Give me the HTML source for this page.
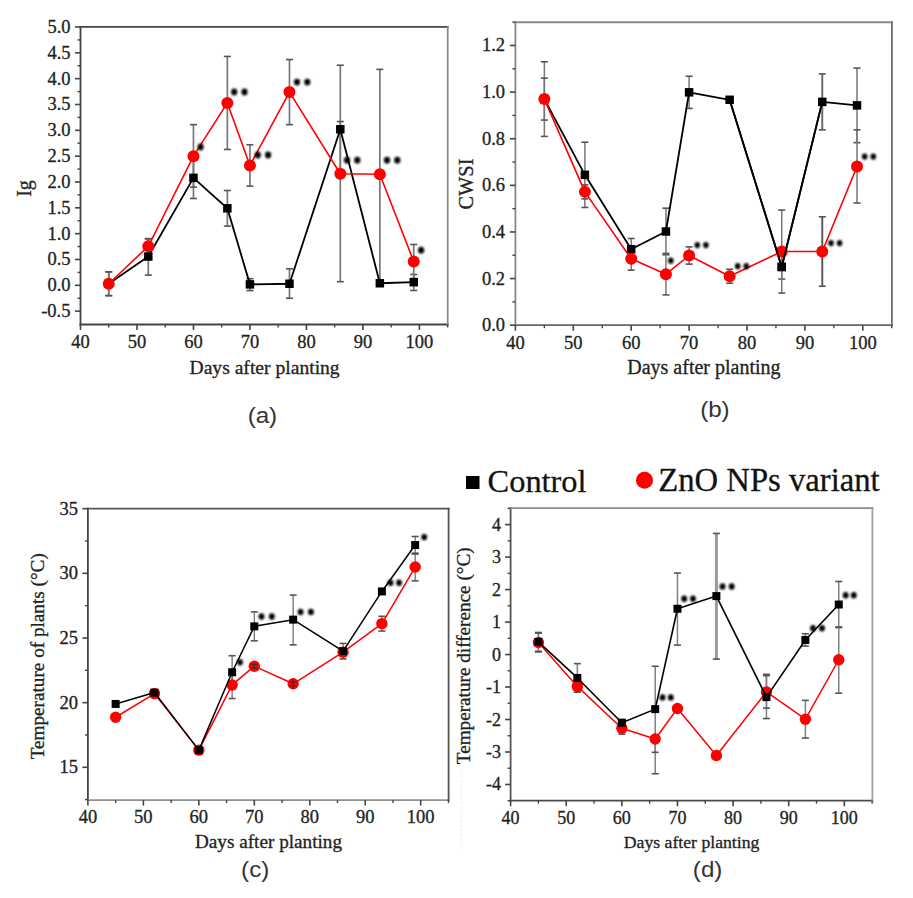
<!DOCTYPE html>
<html><head><meta charset="utf-8"><style>
html,body{margin:0;padding:0;background:#fff;width:913px;height:898px;overflow:hidden;}
svg{display:block;}
text{stroke:#222;stroke-width:0.3px;}
</style></head><body>
<svg width="913" height="898" viewBox="0 0 913 898">
<defs><filter id="bl" x="-50%" y="-50%" width="200%" height="200%"><feGaussianBlur stdDeviation="0.8"/></filter></defs>
<rect width="913" height="898" fill="#fff"/>
<line x1="80.5" y1="26" x2="80.5" y2="325.4" stroke="#444" stroke-width="1.8"/>
<line x1="79.6" y1="324.5" x2="448.6" y2="324.5" stroke="#444" stroke-width="1.8"/>
<line x1="79.6" y1="26.9" x2="448.6" y2="26.9" stroke="#444" stroke-width="1.8"/>
<line x1="447.7" y1="26" x2="447.7" y2="325.4" stroke="#8a8a8a" stroke-width="1.8"/>
<line x1="75" y1="311.13" x2="80.5" y2="311.13" stroke="#444" stroke-width="1.6"/>
<text x="70.5" y="317.13" font-size="18.5" text-anchor="end" font-family='"Liberation Serif", serif' fill="#222">-0.5</text>
<line x1="75" y1="285.3" x2="80.5" y2="285.3" stroke="#444" stroke-width="1.6"/>
<text x="70.5" y="291.3" font-size="18.5" text-anchor="end" font-family='"Liberation Serif", serif' fill="#222">0.0</text>
<line x1="75" y1="259.47" x2="80.5" y2="259.47" stroke="#444" stroke-width="1.6"/>
<text x="70.5" y="265.47" font-size="18.5" text-anchor="end" font-family='"Liberation Serif", serif' fill="#222">0.5</text>
<line x1="75" y1="233.64" x2="80.5" y2="233.64" stroke="#444" stroke-width="1.6"/>
<text x="70.5" y="239.64" font-size="18.5" text-anchor="end" font-family='"Liberation Serif", serif' fill="#222">1.0</text>
<line x1="75" y1="207.81" x2="80.5" y2="207.81" stroke="#444" stroke-width="1.6"/>
<text x="70.5" y="213.81" font-size="18.5" text-anchor="end" font-family='"Liberation Serif", serif' fill="#222">1.5</text>
<line x1="75" y1="181.98" x2="80.5" y2="181.98" stroke="#444" stroke-width="1.6"/>
<text x="70.5" y="187.98" font-size="18.5" text-anchor="end" font-family='"Liberation Serif", serif' fill="#222">2.0</text>
<line x1="75" y1="156.15" x2="80.5" y2="156.15" stroke="#444" stroke-width="1.6"/>
<text x="70.5" y="162.15" font-size="18.5" text-anchor="end" font-family='"Liberation Serif", serif' fill="#222">2.5</text>
<line x1="75" y1="130.32" x2="80.5" y2="130.32" stroke="#444" stroke-width="1.6"/>
<text x="70.5" y="136.32" font-size="18.5" text-anchor="end" font-family='"Liberation Serif", serif' fill="#222">3.0</text>
<line x1="75" y1="104.49" x2="80.5" y2="104.49" stroke="#444" stroke-width="1.6"/>
<text x="70.5" y="110.49" font-size="18.5" text-anchor="end" font-family='"Liberation Serif", serif' fill="#222">3.5</text>
<line x1="75" y1="78.66" x2="80.5" y2="78.66" stroke="#444" stroke-width="1.6"/>
<text x="70.5" y="84.66" font-size="18.5" text-anchor="end" font-family='"Liberation Serif", serif' fill="#222">4.0</text>
<line x1="75" y1="52.83" x2="80.5" y2="52.83" stroke="#444" stroke-width="1.6"/>
<text x="70.5" y="58.83" font-size="18.5" text-anchor="end" font-family='"Liberation Serif", serif' fill="#222">4.5</text>
<line x1="75" y1="27" x2="80.5" y2="27" stroke="#444" stroke-width="1.6"/>
<text x="70.5" y="33" font-size="18.5" text-anchor="end" font-family='"Liberation Serif", serif' fill="#222">5.0</text>
<line x1="77.5" y1="298.22" x2="80.5" y2="298.22" stroke="#444" stroke-width="1.4"/>
<line x1="77.5" y1="272.38" x2="80.5" y2="272.38" stroke="#444" stroke-width="1.4"/>
<line x1="77.5" y1="246.56" x2="80.5" y2="246.56" stroke="#444" stroke-width="1.4"/>
<line x1="77.5" y1="220.73" x2="80.5" y2="220.73" stroke="#444" stroke-width="1.4"/>
<line x1="77.5" y1="194.9" x2="80.5" y2="194.9" stroke="#444" stroke-width="1.4"/>
<line x1="77.5" y1="169.07" x2="80.5" y2="169.07" stroke="#444" stroke-width="1.4"/>
<line x1="77.5" y1="143.24" x2="80.5" y2="143.24" stroke="#444" stroke-width="1.4"/>
<line x1="77.5" y1="117.41" x2="80.5" y2="117.41" stroke="#444" stroke-width="1.4"/>
<line x1="77.5" y1="91.58" x2="80.5" y2="91.58" stroke="#444" stroke-width="1.4"/>
<line x1="77.5" y1="65.75" x2="80.5" y2="65.75" stroke="#444" stroke-width="1.4"/>
<line x1="77.5" y1="39.92" x2="80.5" y2="39.92" stroke="#444" stroke-width="1.4"/>
<line x1="80.5" y1="324.5" x2="80.5" y2="330" stroke="#444" stroke-width="1.6"/>
<text x="80.5" y="348" font-size="18.5" text-anchor="middle" font-family='"Liberation Serif", serif' fill="#222">40</text>
<line x1="136.98" y1="324.5" x2="136.98" y2="330" stroke="#444" stroke-width="1.6"/>
<text x="136.98" y="348" font-size="18.5" text-anchor="middle" font-family='"Liberation Serif", serif' fill="#222">50</text>
<line x1="193.46" y1="324.5" x2="193.46" y2="330" stroke="#444" stroke-width="1.6"/>
<text x="193.46" y="348" font-size="18.5" text-anchor="middle" font-family='"Liberation Serif", serif' fill="#222">60</text>
<line x1="249.94" y1="324.5" x2="249.94" y2="330" stroke="#444" stroke-width="1.6"/>
<text x="249.94" y="348" font-size="18.5" text-anchor="middle" font-family='"Liberation Serif", serif' fill="#222">70</text>
<line x1="306.42" y1="324.5" x2="306.42" y2="330" stroke="#444" stroke-width="1.6"/>
<text x="306.42" y="348" font-size="18.5" text-anchor="middle" font-family='"Liberation Serif", serif' fill="#222">80</text>
<line x1="362.9" y1="324.5" x2="362.9" y2="330" stroke="#444" stroke-width="1.6"/>
<text x="362.9" y="348" font-size="18.5" text-anchor="middle" font-family='"Liberation Serif", serif' fill="#222">90</text>
<line x1="419.38" y1="324.5" x2="419.38" y2="330" stroke="#444" stroke-width="1.6"/>
<text x="419.38" y="348" font-size="18.5" text-anchor="middle" font-family='"Liberation Serif", serif' fill="#222">100</text>
<line x1="108.74" y1="324.5" x2="108.74" y2="327.5" stroke="#444" stroke-width="1.4"/>
<line x1="165.22" y1="324.5" x2="165.22" y2="327.5" stroke="#444" stroke-width="1.4"/>
<line x1="221.7" y1="324.5" x2="221.7" y2="327.5" stroke="#444" stroke-width="1.4"/>
<line x1="278.18" y1="324.5" x2="278.18" y2="327.5" stroke="#444" stroke-width="1.4"/>
<line x1="334.66" y1="324.5" x2="334.66" y2="327.5" stroke="#444" stroke-width="1.4"/>
<line x1="391.14" y1="324.5" x2="391.14" y2="327.5" stroke="#444" stroke-width="1.4"/>
<line x1="447.62" y1="324.5" x2="447.62" y2="327.5" stroke="#444" stroke-width="1.4"/>
<text x="264.6" y="374.3" font-size="19.6" text-anchor="middle" font-family='"Liberation Serif", serif' fill="#222">Days after planting</text>
<text transform="translate(31,188.5) rotate(-90)" font-size="20" text-anchor="middle" font-family='"Liberation Serif", serif' fill="#222">Ig</text>
<text transform="translate(262.4,422.8) scale(1.07,1)" font-size="22.6" text-anchor="middle" font-family='"Liberation Sans", sans-serif' fill="#333" style="stroke:none">(a)</text>
<line x1="108.74" y1="271.87" x2="108.74" y2="295.63" stroke="#777" stroke-width="1.7"/>
<line x1="105.24" y1="271.87" x2="112.24" y2="271.87" stroke="#555" stroke-width="1.6"/>
<line x1="105.24" y1="295.63" x2="112.24" y2="295.63" stroke="#555" stroke-width="1.6"/>
<line x1="148.28" y1="238.96" x2="148.28" y2="275.12" stroke="#777" stroke-width="1.7"/>
<line x1="144.78" y1="238.96" x2="151.78" y2="238.96" stroke="#555" stroke-width="1.6"/>
<line x1="144.78" y1="275.12" x2="151.78" y2="275.12" stroke="#555" stroke-width="1.6"/>
<line x1="193.46" y1="157.18" x2="193.46" y2="198.51" stroke="#777" stroke-width="1.7"/>
<line x1="189.96" y1="157.18" x2="196.96" y2="157.18" stroke="#555" stroke-width="1.6"/>
<line x1="189.96" y1="198.51" x2="196.96" y2="198.51" stroke="#555" stroke-width="1.6"/>
<line x1="227.35" y1="190.5" x2="227.35" y2="226.15" stroke="#777" stroke-width="1.7"/>
<line x1="223.85" y1="190.5" x2="230.85" y2="190.5" stroke="#555" stroke-width="1.6"/>
<line x1="223.85" y1="226.15" x2="230.85" y2="226.15" stroke="#555" stroke-width="1.6"/>
<line x1="249.94" y1="278.69" x2="249.94" y2="290.57" stroke="#777" stroke-width="1.7"/>
<line x1="246.44" y1="278.69" x2="253.44" y2="278.69" stroke="#555" stroke-width="1.6"/>
<line x1="246.44" y1="290.57" x2="253.44" y2="290.57" stroke="#555" stroke-width="1.6"/>
<line x1="289.48" y1="268.77" x2="289.48" y2="298.22" stroke="#777" stroke-width="1.7"/>
<line x1="285.98" y1="268.77" x2="292.98" y2="268.77" stroke="#555" stroke-width="1.6"/>
<line x1="285.98" y1="298.22" x2="292.98" y2="298.22" stroke="#555" stroke-width="1.6"/>
<line x1="340.31" y1="65.23" x2="340.31" y2="281.68" stroke="#777" stroke-width="1.7"/>
<line x1="336.81" y1="65.23" x2="343.81" y2="65.23" stroke="#555" stroke-width="1.6"/>
<line x1="336.81" y1="281.68" x2="343.81" y2="281.68" stroke="#555" stroke-width="1.6"/>
<line x1="379.84" y1="69.36" x2="379.84" y2="283.23" stroke="#777" stroke-width="1.7"/>
<line x1="376.34" y1="69.36" x2="383.34" y2="69.36" stroke="#555" stroke-width="1.6"/>
<line x1="413.73" y1="274.45" x2="413.73" y2="290.47" stroke="#777" stroke-width="1.7"/>
<line x1="410.23" y1="274.45" x2="417.23" y2="274.45" stroke="#555" stroke-width="1.6"/>
<line x1="410.23" y1="290.47" x2="417.23" y2="290.47" stroke="#555" stroke-width="1.6"/>
<line x1="108.74" y1="271.87" x2="108.74" y2="295.63" stroke="#777" stroke-width="1.7"/>
<line x1="105.24" y1="271.87" x2="112.24" y2="271.87" stroke="#555" stroke-width="1.6"/>
<line x1="105.24" y1="295.63" x2="112.24" y2="295.63" stroke="#555" stroke-width="1.6"/>
<line x1="148.28" y1="238.55" x2="148.28" y2="254.05" stroke="#777" stroke-width="1.7"/>
<line x1="144.78" y1="238.55" x2="151.78" y2="238.55" stroke="#555" stroke-width="1.6"/>
<line x1="144.78" y1="254.05" x2="151.78" y2="254.05" stroke="#555" stroke-width="1.6"/>
<line x1="193.46" y1="124.64" x2="193.46" y2="187.15" stroke="#777" stroke-width="1.7"/>
<line x1="189.96" y1="124.64" x2="196.96" y2="124.64" stroke="#555" stroke-width="1.6"/>
<line x1="189.96" y1="187.15" x2="196.96" y2="187.15" stroke="#555" stroke-width="1.6"/>
<line x1="227.35" y1="56.45" x2="227.35" y2="149.43" stroke="#777" stroke-width="1.7"/>
<line x1="223.85" y1="56.45" x2="230.85" y2="56.45" stroke="#555" stroke-width="1.6"/>
<line x1="223.85" y1="149.43" x2="230.85" y2="149.43" stroke="#555" stroke-width="1.6"/>
<line x1="249.94" y1="144.78" x2="249.94" y2="186.11" stroke="#777" stroke-width="1.7"/>
<line x1="246.44" y1="144.78" x2="253.44" y2="144.78" stroke="#555" stroke-width="1.6"/>
<line x1="246.44" y1="186.11" x2="253.44" y2="186.11" stroke="#555" stroke-width="1.6"/>
<line x1="289.48" y1="59.55" x2="289.48" y2="124.64" stroke="#777" stroke-width="1.7"/>
<line x1="285.98" y1="59.55" x2="292.98" y2="59.55" stroke="#555" stroke-width="1.6"/>
<line x1="285.98" y1="124.64" x2="292.98" y2="124.64" stroke="#555" stroke-width="1.6"/>
<line x1="340.31" y1="121.54" x2="340.31" y2="173.71" stroke="#777" stroke-width="1.7"/>
<line x1="336.81" y1="121.54" x2="343.81" y2="121.54" stroke="#555" stroke-width="1.6"/>
<line x1="413.73" y1="244.49" x2="413.73" y2="278.58" stroke="#777" stroke-width="1.7"/>
<line x1="410.23" y1="244.49" x2="417.23" y2="244.49" stroke="#555" stroke-width="1.6"/>
<line x1="410.23" y1="278.58" x2="417.23" y2="278.58" stroke="#555" stroke-width="1.6"/>
<polyline points="108.74,283.75 148.28,256.53 193.46,177.85 227.35,208.33 249.94,284.37 289.48,283.75 340.31,129.29 379.84,283.23 413.73,282.2" fill="none" stroke="#000" stroke-width="1.8" stroke-linejoin="round"/>
<rect x="104.49" y="279.5" width="8.5" height="8.5" fill="#000"/>
<rect x="144.03" y="252.28" width="8.5" height="8.5" fill="#000"/>
<rect x="189.21" y="173.6" width="8.5" height="8.5" fill="#000"/>
<rect x="223.1" y="204.08" width="8.5" height="8.5" fill="#000"/>
<rect x="245.69" y="280.12" width="8.5" height="8.5" fill="#000"/>
<rect x="285.23" y="279.5" width="8.5" height="8.5" fill="#000"/>
<rect x="336.06" y="125.04" width="8.5" height="8.5" fill="#000"/>
<rect x="375.59" y="278.98" width="8.5" height="8.5" fill="#000"/>
<rect x="409.48" y="277.95" width="8.5" height="8.5" fill="#000"/>
<polyline points="108.74,283.75 148.28,246.3 193.46,156.15 227.35,102.94 249.94,165.45 289.48,92.09 340.31,173.71 379.84,174.23 413.73,261.54" fill="none" stroke="#f00" stroke-width="1.6" stroke-linejoin="round"/>
<circle cx="108.74" cy="283.75" r="6" fill="#f00"/>
<circle cx="148.28" cy="246.3" r="6" fill="#f00"/>
<circle cx="193.46" cy="156.15" r="6" fill="#f00"/>
<circle cx="227.35" cy="102.94" r="6" fill="#f00"/>
<circle cx="249.94" cy="165.45" r="6" fill="#f00"/>
<circle cx="289.48" cy="92.09" r="6" fill="#f00"/>
<circle cx="340.31" cy="173.71" r="6" fill="#f00"/>
<circle cx="379.84" cy="174.23" r="6" fill="#f00"/>
<circle cx="413.73" cy="261.54" r="6" fill="#f00"/>
<ellipse cx="200.6" cy="147" rx="3.1" ry="3.41" fill="#000" filter="url(#bl)"/>
<ellipse cx="234.2" cy="92" rx="3.1" ry="3.41" fill="#000" filter="url(#bl)"/>
<ellipse cx="244.5" cy="92" rx="3.1" ry="3.41" fill="#000" filter="url(#bl)"/>
<ellipse cx="257.8" cy="155" rx="3.1" ry="3.41" fill="#000" filter="url(#bl)"/>
<ellipse cx="268.1" cy="155" rx="3.1" ry="3.41" fill="#000" filter="url(#bl)"/>
<ellipse cx="297" cy="82.1" rx="3.1" ry="3.41" fill="#000" filter="url(#bl)"/>
<ellipse cx="307.3" cy="82.1" rx="3.1" ry="3.41" fill="#000" filter="url(#bl)"/>
<ellipse cx="347" cy="160.2" rx="3.1" ry="3.41" fill="#000" filter="url(#bl)"/>
<ellipse cx="357.3" cy="160.2" rx="3.1" ry="3.41" fill="#000" filter="url(#bl)"/>
<ellipse cx="387" cy="160.2" rx="3.1" ry="3.41" fill="#000" filter="url(#bl)"/>
<ellipse cx="397.3" cy="160.2" rx="3.1" ry="3.41" fill="#000" filter="url(#bl)"/>
<ellipse cx="421.1" cy="250.2" rx="3.1" ry="3.41" fill="#000" filter="url(#bl)"/>
<line x1="515.4" y1="21.35" x2="515.4" y2="326.1" stroke="#888" stroke-width="1.8"/>
<line x1="514.5" y1="325.2" x2="892.8" y2="325.2" stroke="#666" stroke-width="1.8"/>
<line x1="514.5" y1="22.25" x2="892.8" y2="22.25" stroke="#8a8a8a" stroke-width="1.8"/>
<line x1="891.9" y1="21.35" x2="891.9" y2="326.1" stroke="#707070" stroke-width="1.8"/>
<line x1="509.9" y1="325.2" x2="515.4" y2="325.2" stroke="#444" stroke-width="1.6"/>
<text x="505" y="331.2" font-size="18.5" text-anchor="end" font-family='"Liberation Serif", serif' fill="#222">0.0</text>
<line x1="509.9" y1="278.58" x2="515.4" y2="278.58" stroke="#444" stroke-width="1.6"/>
<text x="505" y="284.58" font-size="18.5" text-anchor="end" font-family='"Liberation Serif", serif' fill="#222">0.2</text>
<line x1="509.9" y1="231.96" x2="515.4" y2="231.96" stroke="#444" stroke-width="1.6"/>
<text x="505" y="237.96" font-size="18.5" text-anchor="end" font-family='"Liberation Serif", serif' fill="#222">0.4</text>
<line x1="509.9" y1="185.34" x2="515.4" y2="185.34" stroke="#444" stroke-width="1.6"/>
<text x="505" y="191.34" font-size="18.5" text-anchor="end" font-family='"Liberation Serif", serif' fill="#222">0.6</text>
<line x1="509.9" y1="138.72" x2="515.4" y2="138.72" stroke="#444" stroke-width="1.6"/>
<text x="505" y="144.72" font-size="18.5" text-anchor="end" font-family='"Liberation Serif", serif' fill="#222">0.8</text>
<line x1="509.9" y1="92.1" x2="515.4" y2="92.1" stroke="#444" stroke-width="1.6"/>
<text x="505" y="98.1" font-size="18.5" text-anchor="end" font-family='"Liberation Serif", serif' fill="#222">1.0</text>
<line x1="509.9" y1="45.48" x2="515.4" y2="45.48" stroke="#444" stroke-width="1.6"/>
<text x="505" y="51.48" font-size="18.5" text-anchor="end" font-family='"Liberation Serif", serif' fill="#222">1.2</text>
<line x1="512.4" y1="301.89" x2="515.4" y2="301.89" stroke="#444" stroke-width="1.4"/>
<line x1="512.4" y1="255.27" x2="515.4" y2="255.27" stroke="#444" stroke-width="1.4"/>
<line x1="512.4" y1="208.65" x2="515.4" y2="208.65" stroke="#444" stroke-width="1.4"/>
<line x1="512.4" y1="162.03" x2="515.4" y2="162.03" stroke="#444" stroke-width="1.4"/>
<line x1="512.4" y1="115.41" x2="515.4" y2="115.41" stroke="#444" stroke-width="1.4"/>
<line x1="512.4" y1="68.79" x2="515.4" y2="68.79" stroke="#444" stroke-width="1.4"/>
<line x1="512.4" y1="22.17" x2="515.4" y2="22.17" stroke="#444" stroke-width="1.4"/>
<line x1="515.4" y1="325.2" x2="515.4" y2="330.7" stroke="#444" stroke-width="1.6"/>
<text x="515.4" y="349" font-size="18.5" text-anchor="middle" font-family='"Liberation Serif", serif' fill="#222">40</text>
<line x1="573.3" y1="325.2" x2="573.3" y2="330.7" stroke="#444" stroke-width="1.6"/>
<text x="573.3" y="349" font-size="18.5" text-anchor="middle" font-family='"Liberation Serif", serif' fill="#222">50</text>
<line x1="631.2" y1="325.2" x2="631.2" y2="330.7" stroke="#444" stroke-width="1.6"/>
<text x="631.2" y="349" font-size="18.5" text-anchor="middle" font-family='"Liberation Serif", serif' fill="#222">60</text>
<line x1="689.1" y1="325.2" x2="689.1" y2="330.7" stroke="#444" stroke-width="1.6"/>
<text x="689.1" y="349" font-size="18.5" text-anchor="middle" font-family='"Liberation Serif", serif' fill="#222">70</text>
<line x1="747" y1="325.2" x2="747" y2="330.7" stroke="#444" stroke-width="1.6"/>
<text x="747" y="349" font-size="18.5" text-anchor="middle" font-family='"Liberation Serif", serif' fill="#222">80</text>
<line x1="804.9" y1="325.2" x2="804.9" y2="330.7" stroke="#444" stroke-width="1.6"/>
<text x="804.9" y="349" font-size="18.5" text-anchor="middle" font-family='"Liberation Serif", serif' fill="#222">90</text>
<line x1="862.8" y1="325.2" x2="862.8" y2="330.7" stroke="#444" stroke-width="1.6"/>
<text x="862.8" y="349" font-size="18.5" text-anchor="middle" font-family='"Liberation Serif", serif' fill="#222">100</text>
<line x1="544.35" y1="325.2" x2="544.35" y2="328.2" stroke="#444" stroke-width="1.4"/>
<line x1="602.25" y1="325.2" x2="602.25" y2="328.2" stroke="#444" stroke-width="1.4"/>
<line x1="660.15" y1="325.2" x2="660.15" y2="328.2" stroke="#444" stroke-width="1.4"/>
<line x1="718.05" y1="325.2" x2="718.05" y2="328.2" stroke="#444" stroke-width="1.4"/>
<line x1="775.95" y1="325.2" x2="775.95" y2="328.2" stroke="#444" stroke-width="1.4"/>
<line x1="833.85" y1="325.2" x2="833.85" y2="328.2" stroke="#444" stroke-width="1.4"/>
<line x1="891.75" y1="325.2" x2="891.75" y2="328.2" stroke="#444" stroke-width="1.4"/>
<text x="703.9" y="373.6" font-size="20" text-anchor="middle" font-family='"Liberation Serif", serif' fill="#222">Days after planting</text>
<text transform="translate(473.3,184) rotate(-90)" font-size="20.4" text-anchor="middle" font-family='"Liberation Serif", serif' fill="#222">CWSI</text>
<text transform="translate(714.9,416.5) scale(1.07,1)" font-size="22.6" text-anchor="middle" font-family='"Liberation Sans", sans-serif' fill="#333" style="stroke:none">(b)</text>
<line x1="544.35" y1="61.8" x2="544.35" y2="136.39" stroke="#777" stroke-width="1.5"/>
<line x1="540.85" y1="61.8" x2="547.85" y2="61.8" stroke="#555" stroke-width="1.6"/>
<line x1="540.85" y1="136.39" x2="547.85" y2="136.39" stroke="#555" stroke-width="1.6"/>
<line x1="584.88" y1="142.22" x2="584.88" y2="207.48" stroke="#777" stroke-width="1.5"/>
<line x1="581.38" y1="142.22" x2="588.38" y2="142.22" stroke="#555" stroke-width="1.6"/>
<line x1="581.38" y1="207.48" x2="588.38" y2="207.48" stroke="#555" stroke-width="1.6"/>
<line x1="631.2" y1="238.49" x2="631.2" y2="259.93" stroke="#777" stroke-width="1.5"/>
<line x1="627.7" y1="238.49" x2="634.7" y2="238.49" stroke="#555" stroke-width="1.6"/>
<line x1="627.7" y1="259.93" x2="634.7" y2="259.93" stroke="#555" stroke-width="1.6"/>
<line x1="665.94" y1="208.18" x2="665.94" y2="254.8" stroke="#777" stroke-width="1.5"/>
<line x1="662.44" y1="208.18" x2="669.44" y2="208.18" stroke="#555" stroke-width="1.6"/>
<line x1="662.44" y1="254.8" x2="669.44" y2="254.8" stroke="#555" stroke-width="1.6"/>
<line x1="689.1" y1="76.25" x2="689.1" y2="108.42" stroke="#777" stroke-width="1.5"/>
<line x1="685.6" y1="76.25" x2="692.6" y2="76.25" stroke="#555" stroke-width="1.6"/>
<line x1="685.6" y1="108.42" x2="692.6" y2="108.42" stroke="#555" stroke-width="1.6"/>
<line x1="729.63" y1="97.46" x2="729.63" y2="102.12" stroke="#777" stroke-width="1.5"/>
<line x1="726.13" y1="97.46" x2="733.13" y2="97.46" stroke="#555" stroke-width="1.6"/>
<line x1="726.13" y1="102.12" x2="733.13" y2="102.12" stroke="#555" stroke-width="1.6"/>
<line x1="781.74" y1="254.8" x2="781.74" y2="279.05" stroke="#777" stroke-width="1.5"/>
<line x1="778.24" y1="254.8" x2="785.24" y2="254.8" stroke="#555" stroke-width="1.6"/>
<line x1="778.24" y1="279.05" x2="785.24" y2="279.05" stroke="#555" stroke-width="1.6"/>
<line x1="822.27" y1="73.92" x2="822.27" y2="129.86" stroke="#666" stroke-width="1.9"/>
<line x1="818.77" y1="73.92" x2="825.77" y2="73.92" stroke="#555" stroke-width="1.6"/>
<line x1="818.77" y1="129.86" x2="825.77" y2="129.86" stroke="#555" stroke-width="1.6"/>
<line x1="857.01" y1="68.09" x2="857.01" y2="142.68" stroke="#777" stroke-width="1.5"/>
<line x1="853.51" y1="68.09" x2="860.51" y2="68.09" stroke="#555" stroke-width="1.6"/>
<line x1="853.51" y1="142.68" x2="860.51" y2="142.68" stroke="#555" stroke-width="1.6"/>
<line x1="544.35" y1="78.11" x2="544.35" y2="120.07" stroke="#777" stroke-width="1.5"/>
<line x1="540.85" y1="78.11" x2="547.85" y2="78.11" stroke="#555" stroke-width="1.6"/>
<line x1="540.85" y1="120.07" x2="547.85" y2="120.07" stroke="#555" stroke-width="1.6"/>
<line x1="584.88" y1="184.87" x2="584.88" y2="198.86" stroke="#777" stroke-width="1.5"/>
<line x1="581.38" y1="184.87" x2="588.38" y2="184.87" stroke="#555" stroke-width="1.6"/>
<line x1="581.38" y1="198.86" x2="588.38" y2="198.86" stroke="#555" stroke-width="1.6"/>
<line x1="631.2" y1="247.34" x2="631.2" y2="270.19" stroke="#777" stroke-width="1.5"/>
<line x1="627.7" y1="247.34" x2="634.7" y2="247.34" stroke="#555" stroke-width="1.6"/>
<line x1="627.7" y1="270.19" x2="634.7" y2="270.19" stroke="#555" stroke-width="1.6"/>
<line x1="665.94" y1="253.41" x2="665.94" y2="294.9" stroke="#777" stroke-width="1.5"/>
<line x1="662.44" y1="253.41" x2="669.44" y2="253.41" stroke="#555" stroke-width="1.6"/>
<line x1="662.44" y1="294.9" x2="669.44" y2="294.9" stroke="#555" stroke-width="1.6"/>
<line x1="689.1" y1="246.88" x2="689.1" y2="264.13" stroke="#777" stroke-width="1.5"/>
<line x1="685.6" y1="246.88" x2="692.6" y2="246.88" stroke="#555" stroke-width="1.6"/>
<line x1="685.6" y1="264.13" x2="692.6" y2="264.13" stroke="#555" stroke-width="1.6"/>
<line x1="729.63" y1="269.26" x2="729.63" y2="283.24" stroke="#777" stroke-width="1.5"/>
<line x1="726.13" y1="269.26" x2="733.13" y2="269.26" stroke="#555" stroke-width="1.6"/>
<line x1="726.13" y1="283.24" x2="733.13" y2="283.24" stroke="#555" stroke-width="1.6"/>
<line x1="781.74" y1="210.05" x2="781.74" y2="293.03" stroke="#777" stroke-width="1.5"/>
<line x1="778.24" y1="210.05" x2="785.24" y2="210.05" stroke="#555" stroke-width="1.6"/>
<line x1="778.24" y1="293.03" x2="785.24" y2="293.03" stroke="#555" stroke-width="1.6"/>
<line x1="822.27" y1="216.81" x2="822.27" y2="286.27" stroke="#555" stroke-width="1.9"/>
<line x1="818.77" y1="216.81" x2="825.77" y2="216.81" stroke="#555" stroke-width="1.6"/>
<line x1="818.77" y1="286.27" x2="825.77" y2="286.27" stroke="#555" stroke-width="1.6"/>
<line x1="857.01" y1="129.86" x2="857.01" y2="203.06" stroke="#777" stroke-width="1.5"/>
<line x1="853.51" y1="129.86" x2="860.51" y2="129.86" stroke="#555" stroke-width="1.6"/>
<line x1="853.51" y1="203.06" x2="860.51" y2="203.06" stroke="#555" stroke-width="1.6"/>
<polyline points="544.35,99.09 584.88,174.85 631.2,249.21 665.94,231.49 689.1,92.33 729.63,99.79 781.74,266.93 822.27,101.89 857.01,105.39" fill="none" stroke="#000" stroke-width="1.8" stroke-linejoin="round"/>
<rect x="540.1" y="94.84" width="8.5" height="8.5" fill="#000"/>
<rect x="580.63" y="170.6" width="8.5" height="8.5" fill="#000"/>
<rect x="626.95" y="244.96" width="8.5" height="8.5" fill="#000"/>
<rect x="661.69" y="227.24" width="8.5" height="8.5" fill="#000"/>
<rect x="684.85" y="88.08" width="8.5" height="8.5" fill="#000"/>
<rect x="725.38" y="95.54" width="8.5" height="8.5" fill="#000"/>
<rect x="777.49" y="262.68" width="8.5" height="8.5" fill="#000"/>
<rect x="818.02" y="97.64" width="8.5" height="8.5" fill="#000"/>
<rect x="852.76" y="101.14" width="8.5" height="8.5" fill="#000"/>
<polyline points="544.35,99.09 584.88,191.87 631.2,258.77 665.94,274.15 689.1,255.5 729.63,276.25 781.74,251.54 822.27,251.54 857.01,166.46" fill="none" stroke="#f00" stroke-width="1.6" stroke-linejoin="round"/>
<circle cx="544.35" cy="99.09" r="6" fill="#f00"/>
<circle cx="584.88" cy="191.87" r="6" fill="#f00"/>
<circle cx="631.2" cy="258.77" r="6" fill="#f00"/>
<circle cx="665.94" cy="274.15" r="6" fill="#f00"/>
<circle cx="689.1" cy="255.5" r="6" fill="#f00"/>
<circle cx="729.63" cy="276.25" r="6" fill="#f00"/>
<circle cx="781.74" cy="251.54" r="6" fill="#f00"/>
<circle cx="822.27" cy="251.54" r="6" fill="#f00"/>
<circle cx="857.01" cy="166.46" r="6" fill="#f00"/>
<polyline points="729.63,99.79 781.74,266.93 822.27,101.89" fill="none" stroke="#000" stroke-width="1.8" stroke-linejoin="round"/>
<rect x="777.49" y="262.68" width="8.5" height="8.5" fill="#000"/>
<ellipse cx="670.8" cy="260.7" rx="2.8" ry="3.08" fill="#000" filter="url(#bl)"/>
<ellipse cx="697.3" cy="245.1" rx="2.8" ry="3.08" fill="#000" filter="url(#bl)"/>
<ellipse cx="705.9" cy="245.1" rx="2.8" ry="3.08" fill="#000" filter="url(#bl)"/>
<ellipse cx="737.7" cy="266.2" rx="2.8" ry="3.08" fill="#000" filter="url(#bl)"/>
<ellipse cx="746.3" cy="266.2" rx="2.8" ry="3.08" fill="#000" filter="url(#bl)"/>
<ellipse cx="831" cy="243.1" rx="2.8" ry="3.08" fill="#000" filter="url(#bl)"/>
<ellipse cx="839.6" cy="243.1" rx="2.8" ry="3.08" fill="#000" filter="url(#bl)"/>
<ellipse cx="864.7" cy="156.6" rx="2.8" ry="3.08" fill="#000" filter="url(#bl)"/>
<ellipse cx="873.3" cy="156.6" rx="2.8" ry="3.08" fill="#000" filter="url(#bl)"/>
<line x1="87.9" y1="507.8" x2="87.9" y2="801" stroke="#444" stroke-width="1.8"/>
<line x1="87" y1="800.1" x2="449.5" y2="800.1" stroke="#909090" stroke-width="1.8"/>
<line x1="87" y1="508.7" x2="449.5" y2="508.7" stroke="#555" stroke-width="1.8"/>
<line x1="448.6" y1="507.8" x2="448.6" y2="801" stroke="#555" stroke-width="1.8"/>
<line x1="82.4" y1="767.3" x2="87.9" y2="767.3" stroke="#444" stroke-width="1.6"/>
<text x="78" y="773.3" font-size="18.5" text-anchor="end" font-family='"Liberation Serif", serif' fill="#222">15</text>
<line x1="82.4" y1="702.65" x2="87.9" y2="702.65" stroke="#444" stroke-width="1.6"/>
<text x="78" y="708.65" font-size="18.5" text-anchor="end" font-family='"Liberation Serif", serif' fill="#222">20</text>
<line x1="82.4" y1="638" x2="87.9" y2="638" stroke="#444" stroke-width="1.6"/>
<text x="78" y="644" font-size="18.5" text-anchor="end" font-family='"Liberation Serif", serif' fill="#222">25</text>
<line x1="82.4" y1="573.35" x2="87.9" y2="573.35" stroke="#444" stroke-width="1.6"/>
<text x="78" y="579.35" font-size="18.5" text-anchor="end" font-family='"Liberation Serif", serif' fill="#222">30</text>
<line x1="82.4" y1="508.7" x2="87.9" y2="508.7" stroke="#444" stroke-width="1.6"/>
<text x="78" y="514.7" font-size="18.5" text-anchor="end" font-family='"Liberation Serif", serif' fill="#222">35</text>
<line x1="84.9" y1="799.62" x2="87.9" y2="799.62" stroke="#444" stroke-width="1.4"/>
<line x1="84.9" y1="734.98" x2="87.9" y2="734.98" stroke="#444" stroke-width="1.4"/>
<line x1="84.9" y1="670.33" x2="87.9" y2="670.33" stroke="#444" stroke-width="1.4"/>
<line x1="84.9" y1="605.67" x2="87.9" y2="605.67" stroke="#444" stroke-width="1.4"/>
<line x1="84.9" y1="541.02" x2="87.9" y2="541.02" stroke="#444" stroke-width="1.4"/>
<line x1="87.9" y1="800.1" x2="87.9" y2="805.6" stroke="#444" stroke-width="1.6"/>
<text x="87.9" y="823" font-size="18.5" text-anchor="middle" font-family='"Liberation Serif", serif' fill="#222">40</text>
<line x1="143.37" y1="800.1" x2="143.37" y2="805.6" stroke="#444" stroke-width="1.6"/>
<text x="143.37" y="823" font-size="18.5" text-anchor="middle" font-family='"Liberation Serif", serif' fill="#222">50</text>
<line x1="198.84" y1="800.1" x2="198.84" y2="805.6" stroke="#444" stroke-width="1.6"/>
<text x="198.84" y="823" font-size="18.5" text-anchor="middle" font-family='"Liberation Serif", serif' fill="#222">60</text>
<line x1="254.31" y1="800.1" x2="254.31" y2="805.6" stroke="#444" stroke-width="1.6"/>
<text x="254.31" y="823" font-size="18.5" text-anchor="middle" font-family='"Liberation Serif", serif' fill="#222">70</text>
<line x1="309.78" y1="800.1" x2="309.78" y2="805.6" stroke="#444" stroke-width="1.6"/>
<text x="309.78" y="823" font-size="18.5" text-anchor="middle" font-family='"Liberation Serif", serif' fill="#222">80</text>
<line x1="365.25" y1="800.1" x2="365.25" y2="805.6" stroke="#444" stroke-width="1.6"/>
<text x="365.25" y="823" font-size="18.5" text-anchor="middle" font-family='"Liberation Serif", serif' fill="#222">90</text>
<line x1="420.72" y1="800.1" x2="420.72" y2="805.6" stroke="#444" stroke-width="1.6"/>
<text x="420.72" y="823" font-size="18.5" text-anchor="middle" font-family='"Liberation Serif", serif' fill="#222">100</text>
<line x1="115.64" y1="800.1" x2="115.64" y2="803.1" stroke="#444" stroke-width="1.4"/>
<line x1="171.11" y1="800.1" x2="171.11" y2="803.1" stroke="#444" stroke-width="1.4"/>
<line x1="226.57" y1="800.1" x2="226.57" y2="803.1" stroke="#444" stroke-width="1.4"/>
<line x1="282.04" y1="800.1" x2="282.04" y2="803.1" stroke="#444" stroke-width="1.4"/>
<line x1="337.51" y1="800.1" x2="337.51" y2="803.1" stroke="#444" stroke-width="1.4"/>
<line x1="392.99" y1="800.1" x2="392.99" y2="803.1" stroke="#444" stroke-width="1.4"/>
<line x1="448.46" y1="800.1" x2="448.46" y2="803.1" stroke="#444" stroke-width="1.4"/>
<text x="268.5" y="848.4" font-size="19.2" text-anchor="middle" font-family='"Liberation Serif", serif' fill="#222">Days after planting</text>
<text transform="translate(43.5,656.25) rotate(-90)" font-size="19.2" text-anchor="middle" font-family='"Liberation Serif", serif' fill="#222">Temperature of plants (°C)</text>
<text transform="translate(255.2,877.2) scale(1.07,1)" font-size="22.6" text-anchor="middle" font-family='"Liberation Sans", sans-serif' fill="#333" style="stroke:none">(c)</text>
<line x1="232.12" y1="655.71" x2="232.12" y2="688.81" stroke="#666" stroke-width="1.2"/>
<line x1="228.62" y1="655.71" x2="235.62" y2="655.71" stroke="#555" stroke-width="1.6"/>
<line x1="228.62" y1="688.81" x2="235.62" y2="688.81" stroke="#555" stroke-width="1.6"/>
<line x1="254.31" y1="611.88" x2="254.31" y2="640.84" stroke="#666" stroke-width="1.2"/>
<line x1="250.81" y1="611.88" x2="257.81" y2="611.88" stroke="#555" stroke-width="1.6"/>
<line x1="250.81" y1="640.84" x2="257.81" y2="640.84" stroke="#555" stroke-width="1.6"/>
<line x1="293.14" y1="595.07" x2="293.14" y2="644.85" stroke="#666" stroke-width="1.2"/>
<line x1="289.64" y1="595.07" x2="296.64" y2="595.07" stroke="#555" stroke-width="1.6"/>
<line x1="289.64" y1="644.85" x2="296.64" y2="644.85" stroke="#555" stroke-width="1.6"/>
<line x1="343.06" y1="643.43" x2="343.06" y2="658.95" stroke="#666" stroke-width="1.2"/>
<line x1="339.56" y1="643.43" x2="346.56" y2="643.43" stroke="#555" stroke-width="1.6"/>
<line x1="339.56" y1="658.95" x2="346.56" y2="658.95" stroke="#555" stroke-width="1.6"/>
<line x1="381.89" y1="590.16" x2="381.89" y2="592.75" stroke="#666" stroke-width="1.2"/>
<line x1="378.39" y1="590.16" x2="385.39" y2="590.16" stroke="#555" stroke-width="1.6"/>
<line x1="378.39" y1="592.75" x2="385.39" y2="592.75" stroke="#555" stroke-width="1.6"/>
<line x1="415.17" y1="536.5" x2="415.17" y2="554.08" stroke="#666" stroke-width="1.2"/>
<line x1="411.67" y1="536.5" x2="418.67" y2="536.5" stroke="#555" stroke-width="1.6"/>
<line x1="411.67" y1="554.08" x2="418.67" y2="554.08" stroke="#555" stroke-width="1.6"/>
<line x1="232.12" y1="671.36" x2="232.12" y2="698.51" stroke="#666" stroke-width="1.2"/>
<line x1="228.62" y1="671.36" x2="235.62" y2="671.36" stroke="#555" stroke-width="1.6"/>
<line x1="228.62" y1="698.51" x2="235.62" y2="698.51" stroke="#555" stroke-width="1.6"/>
<line x1="343.06" y1="650.28" x2="343.06" y2="654.16" stroke="#666" stroke-width="1.2"/>
<line x1="339.56" y1="650.28" x2="346.56" y2="650.28" stroke="#555" stroke-width="1.6"/>
<line x1="339.56" y1="654.16" x2="346.56" y2="654.16" stroke="#555" stroke-width="1.6"/>
<line x1="381.89" y1="616.28" x2="381.89" y2="631.02" stroke="#666" stroke-width="1.2"/>
<line x1="378.39" y1="616.28" x2="385.39" y2="616.28" stroke="#555" stroke-width="1.6"/>
<line x1="378.39" y1="631.02" x2="385.39" y2="631.02" stroke="#555" stroke-width="1.6"/>
<line x1="415.17" y1="553.18" x2="415.17" y2="580.85" stroke="#666" stroke-width="1.2"/>
<line x1="411.67" y1="553.18" x2="418.67" y2="553.18" stroke="#555" stroke-width="1.6"/>
<line x1="411.67" y1="580.85" x2="418.67" y2="580.85" stroke="#555" stroke-width="1.6"/>
<polyline points="115.64,717.26 154.46,693.6 198.84,750.1 232.12,684.94 254.31,666.19 293.14,683.77 343.06,652.22 381.89,623.65 415.17,567.01" fill="none" stroke="#f00" stroke-width="1.5" stroke-linejoin="round"/>
<circle cx="115.64" cy="717.26" r="5.7" fill="#f00"/>
<circle cx="154.46" cy="693.6" r="5.7" fill="#f00"/>
<circle cx="198.84" cy="750.1" r="5.7" fill="#f00"/>
<circle cx="232.12" cy="684.94" r="5.7" fill="#f00"/>
<circle cx="254.31" cy="666.19" r="5.7" fill="#f00"/>
<circle cx="293.14" cy="683.77" r="5.7" fill="#f00"/>
<circle cx="343.06" cy="652.22" r="5.7" fill="#f00"/>
<circle cx="381.89" cy="623.65" r="5.7" fill="#f00"/>
<circle cx="415.17" cy="567.01" r="5.7" fill="#f00"/>
<polyline points="115.64,703.94 154.46,692.56 198.84,750.1 232.12,672.26 254.31,626.36 293.14,619.64 343.06,651.19 381.89,591.45 415.17,545.03" fill="none" stroke="#000" stroke-width="1.5" stroke-linejoin="round"/>
<rect x="111.64" y="699.94" width="8" height="8" fill="#000"/>
<rect x="150.46" y="688.56" width="8" height="8" fill="#000"/>
<rect x="194.84" y="746.1" width="8" height="8" fill="#000"/>
<rect x="228.12" y="668.26" width="8" height="8" fill="#000"/>
<rect x="250.31" y="622.36" width="8" height="8" fill="#000"/>
<rect x="289.14" y="615.64" width="8" height="8" fill="#000"/>
<rect x="339.06" y="647.19" width="8" height="8" fill="#000"/>
<rect x="377.89" y="587.45" width="8" height="8" fill="#000"/>
<rect x="411.17" y="541.03" width="8" height="8" fill="#000"/>
<line x1="254.31" y1="664.38" x2="254.31" y2="668" stroke="#333" stroke-width="1.2"/>
<line x1="250.81" y1="664.38" x2="257.81" y2="664.38" stroke="#333" stroke-width="1.3"/>
<line x1="250.81" y1="668" x2="257.81" y2="668" stroke="#333" stroke-width="1.3"/>
<line x1="293.14" y1="678.47" x2="293.14" y2="689.07" stroke="#333" stroke-width="1.2"/>
<line x1="289.64" y1="681.83" x2="296.64" y2="681.83" stroke="#333" stroke-width="1.3"/>
<line x1="289.64" y1="685.71" x2="296.64" y2="685.71" stroke="#333" stroke-width="1.3"/>
<ellipse cx="240" cy="662.2" rx="2.9" ry="3.19" fill="#000" filter="url(#bl)"/>
<ellipse cx="261.5" cy="616.5" rx="2.9" ry="3.19" fill="#000" filter="url(#bl)"/>
<ellipse cx="271.8" cy="616.5" rx="2.9" ry="3.19" fill="#000" filter="url(#bl)"/>
<ellipse cx="300.6" cy="611.9" rx="2.9" ry="3.19" fill="#000" filter="url(#bl)"/>
<ellipse cx="310.9" cy="611.9" rx="2.9" ry="3.19" fill="#000" filter="url(#bl)"/>
<ellipse cx="390.5" cy="582.8" rx="2.9" ry="3.19" fill="#000" filter="url(#bl)"/>
<ellipse cx="399.1" cy="582.8" rx="2.9" ry="3.19" fill="#000" filter="url(#bl)"/>
<ellipse cx="424.2" cy="537.1" rx="2.9" ry="3.19" fill="#000" filter="url(#bl)"/>
<line x1="510.6" y1="507.3" x2="510.6" y2="801.6" stroke="#555" stroke-width="1.8"/>
<line x1="509.7" y1="800.7" x2="873.3" y2="800.7" stroke="#4a4a4a" stroke-width="1.8"/>
<line x1="509.7" y1="508.2" x2="873.3" y2="508.2" stroke="#8a8a8a" stroke-width="1.8"/>
<line x1="872.4" y1="507.3" x2="872.4" y2="801.6" stroke="#a0a0a0" stroke-width="1.8"/>
<line x1="505.1" y1="784.47" x2="510.6" y2="784.47" stroke="#444" stroke-width="1.6"/>
<text x="501" y="790.47" font-size="18" text-anchor="end" font-family='"Liberation Serif", serif' fill="#222">-4</text>
<line x1="505.1" y1="751.99" x2="510.6" y2="751.99" stroke="#444" stroke-width="1.6"/>
<text x="501" y="757.99" font-size="18" text-anchor="end" font-family='"Liberation Serif", serif' fill="#222">-3</text>
<line x1="505.1" y1="719.51" x2="510.6" y2="719.51" stroke="#444" stroke-width="1.6"/>
<text x="501" y="725.51" font-size="18" text-anchor="end" font-family='"Liberation Serif", serif' fill="#222">-2</text>
<line x1="505.1" y1="687.03" x2="510.6" y2="687.03" stroke="#444" stroke-width="1.6"/>
<text x="501" y="693.03" font-size="18" text-anchor="end" font-family='"Liberation Serif", serif' fill="#222">-1</text>
<line x1="505.1" y1="654.55" x2="510.6" y2="654.55" stroke="#444" stroke-width="1.6"/>
<text x="501" y="660.55" font-size="18" text-anchor="end" font-family='"Liberation Serif", serif' fill="#222">0</text>
<line x1="505.1" y1="622.07" x2="510.6" y2="622.07" stroke="#444" stroke-width="1.6"/>
<text x="501" y="628.07" font-size="18" text-anchor="end" font-family='"Liberation Serif", serif' fill="#222">1</text>
<line x1="505.1" y1="589.59" x2="510.6" y2="589.59" stroke="#444" stroke-width="1.6"/>
<text x="501" y="595.59" font-size="18" text-anchor="end" font-family='"Liberation Serif", serif' fill="#222">2</text>
<line x1="505.1" y1="557.11" x2="510.6" y2="557.11" stroke="#444" stroke-width="1.6"/>
<text x="501" y="563.11" font-size="18" text-anchor="end" font-family='"Liberation Serif", serif' fill="#222">3</text>
<line x1="505.1" y1="524.63" x2="510.6" y2="524.63" stroke="#444" stroke-width="1.6"/>
<text x="501" y="530.63" font-size="18" text-anchor="end" font-family='"Liberation Serif", serif' fill="#222">4</text>
<line x1="507.6" y1="800.71" x2="510.6" y2="800.71" stroke="#444" stroke-width="1.4"/>
<line x1="507.6" y1="768.23" x2="510.6" y2="768.23" stroke="#444" stroke-width="1.4"/>
<line x1="507.6" y1="735.75" x2="510.6" y2="735.75" stroke="#444" stroke-width="1.4"/>
<line x1="507.6" y1="703.27" x2="510.6" y2="703.27" stroke="#444" stroke-width="1.4"/>
<line x1="507.6" y1="670.79" x2="510.6" y2="670.79" stroke="#444" stroke-width="1.4"/>
<line x1="507.6" y1="638.31" x2="510.6" y2="638.31" stroke="#444" stroke-width="1.4"/>
<line x1="507.6" y1="605.83" x2="510.6" y2="605.83" stroke="#444" stroke-width="1.4"/>
<line x1="507.6" y1="573.35" x2="510.6" y2="573.35" stroke="#444" stroke-width="1.4"/>
<line x1="507.6" y1="540.87" x2="510.6" y2="540.87" stroke="#444" stroke-width="1.4"/>
<line x1="507.6" y1="508.39" x2="510.6" y2="508.39" stroke="#444" stroke-width="1.4"/>
<line x1="510.6" y1="800.7" x2="510.6" y2="806.2" stroke="#444" stroke-width="1.6"/>
<text x="510.6" y="823.5" font-size="18" text-anchor="middle" font-family='"Liberation Serif", serif' fill="#222">40</text>
<line x1="566.22" y1="800.7" x2="566.22" y2="806.2" stroke="#444" stroke-width="1.6"/>
<text x="566.22" y="823.5" font-size="18" text-anchor="middle" font-family='"Liberation Serif", serif' fill="#222">50</text>
<line x1="621.84" y1="800.7" x2="621.84" y2="806.2" stroke="#444" stroke-width="1.6"/>
<text x="621.84" y="823.5" font-size="18" text-anchor="middle" font-family='"Liberation Serif", serif' fill="#222">60</text>
<line x1="677.46" y1="800.7" x2="677.46" y2="806.2" stroke="#444" stroke-width="1.6"/>
<text x="677.46" y="823.5" font-size="18" text-anchor="middle" font-family='"Liberation Serif", serif' fill="#222">70</text>
<line x1="733.08" y1="800.7" x2="733.08" y2="806.2" stroke="#444" stroke-width="1.6"/>
<text x="733.08" y="823.5" font-size="18" text-anchor="middle" font-family='"Liberation Serif", serif' fill="#222">80</text>
<line x1="788.7" y1="800.7" x2="788.7" y2="806.2" stroke="#444" stroke-width="1.6"/>
<text x="788.7" y="823.5" font-size="18" text-anchor="middle" font-family='"Liberation Serif", serif' fill="#222">90</text>
<line x1="844.32" y1="800.7" x2="844.32" y2="806.2" stroke="#444" stroke-width="1.6"/>
<text x="844.32" y="823.5" font-size="18" text-anchor="middle" font-family='"Liberation Serif", serif' fill="#222">100</text>
<line x1="538.41" y1="800.7" x2="538.41" y2="803.7" stroke="#444" stroke-width="1.4"/>
<line x1="594.03" y1="800.7" x2="594.03" y2="803.7" stroke="#444" stroke-width="1.4"/>
<line x1="649.65" y1="800.7" x2="649.65" y2="803.7" stroke="#444" stroke-width="1.4"/>
<line x1="705.27" y1="800.7" x2="705.27" y2="803.7" stroke="#444" stroke-width="1.4"/>
<line x1="760.89" y1="800.7" x2="760.89" y2="803.7" stroke="#444" stroke-width="1.4"/>
<line x1="816.51" y1="800.7" x2="816.51" y2="803.7" stroke="#444" stroke-width="1.4"/>
<line x1="872.13" y1="800.7" x2="872.13" y2="803.7" stroke="#444" stroke-width="1.4"/>
<text x="691.6" y="848.2" font-size="17.7" text-anchor="middle" font-family='"Liberation Serif", serif' fill="#222">Days after planting</text>
<text transform="translate(470.3,655.8) rotate(-90)" font-size="19.2" text-anchor="middle" font-family='"Liberation Serif", serif' fill="#222">Temperature difference (°C)</text>
<text transform="translate(707.6,877.2) scale(1.07,1)" font-size="22.6" text-anchor="middle" font-family='"Liberation Sans", sans-serif' fill="#333" style="stroke:none">(d)</text>
<line x1="538.41" y1="632.46" x2="538.41" y2="651.3" stroke="#808080" stroke-width="1.5"/>
<line x1="534.91" y1="632.46" x2="541.91" y2="632.46" stroke="#555" stroke-width="1.6"/>
<line x1="534.91" y1="651.3" x2="541.91" y2="651.3" stroke="#555" stroke-width="1.6"/>
<line x1="577.34" y1="663.64" x2="577.34" y2="692.23" stroke="#808080" stroke-width="1.5"/>
<line x1="573.84" y1="663.64" x2="580.84" y2="663.64" stroke="#555" stroke-width="1.6"/>
<line x1="573.84" y1="692.23" x2="580.84" y2="692.23" stroke="#555" stroke-width="1.6"/>
<line x1="621.84" y1="719.51" x2="621.84" y2="726.01" stroke="#808080" stroke-width="1.5"/>
<line x1="618.34" y1="719.51" x2="625.34" y2="719.51" stroke="#555" stroke-width="1.6"/>
<line x1="618.34" y1="726.01" x2="625.34" y2="726.01" stroke="#555" stroke-width="1.6"/>
<line x1="655.21" y1="666.24" x2="655.21" y2="773.75" stroke="#808080" stroke-width="1.5"/>
<line x1="651.71" y1="666.24" x2="658.71" y2="666.24" stroke="#555" stroke-width="1.6"/>
<line x1="651.71" y1="773.75" x2="658.71" y2="773.75" stroke="#555" stroke-width="1.6"/>
<line x1="677.46" y1="573.03" x2="677.46" y2="645.13" stroke="#808080" stroke-width="1.5"/>
<line x1="673.96" y1="573.03" x2="680.96" y2="573.03" stroke="#555" stroke-width="1.6"/>
<line x1="673.96" y1="645.13" x2="680.96" y2="645.13" stroke="#555" stroke-width="1.6"/>
<line x1="716.39" y1="533.4" x2="716.39" y2="659.1" stroke="#9a9a9a" stroke-width="3.0"/>
<line x1="712.89" y1="533.4" x2="719.89" y2="533.4" stroke="#555" stroke-width="1.6"/>
<line x1="712.89" y1="659.1" x2="719.89" y2="659.1" stroke="#555" stroke-width="1.6"/>
<line x1="766.45" y1="674.36" x2="766.45" y2="718.54" stroke="#808080" stroke-width="1.5"/>
<line x1="762.95" y1="674.36" x2="769.95" y2="674.36" stroke="#555" stroke-width="1.6"/>
<line x1="762.95" y1="718.54" x2="769.95" y2="718.54" stroke="#555" stroke-width="1.6"/>
<line x1="805.39" y1="633.76" x2="805.39" y2="646.11" stroke="#808080" stroke-width="1.5"/>
<line x1="801.89" y1="633.76" x2="808.89" y2="633.76" stroke="#555" stroke-width="1.6"/>
<line x1="801.89" y1="646.11" x2="808.89" y2="646.11" stroke="#555" stroke-width="1.6"/>
<line x1="838.76" y1="581.47" x2="838.76" y2="627.59" stroke="#808080" stroke-width="1.5"/>
<line x1="835.26" y1="581.47" x2="842.26" y2="581.47" stroke="#555" stroke-width="1.6"/>
<line x1="835.26" y1="627.59" x2="842.26" y2="627.59" stroke="#555" stroke-width="1.6"/>
<line x1="538.41" y1="633.11" x2="538.41" y2="651.95" stroke="#808080" stroke-width="1.5"/>
<line x1="534.91" y1="633.11" x2="541.91" y2="633.11" stroke="#555" stroke-width="1.6"/>
<line x1="534.91" y1="651.95" x2="541.91" y2="651.95" stroke="#555" stroke-width="1.6"/>
<line x1="577.34" y1="680.53" x2="577.34" y2="692.23" stroke="#808080" stroke-width="1.5"/>
<line x1="573.84" y1="680.53" x2="580.84" y2="680.53" stroke="#555" stroke-width="1.6"/>
<line x1="573.84" y1="692.23" x2="580.84" y2="692.23" stroke="#555" stroke-width="1.6"/>
<line x1="621.84" y1="722.43" x2="621.84" y2="734.13" stroke="#808080" stroke-width="1.5"/>
<line x1="618.34" y1="722.43" x2="625.34" y2="722.43" stroke="#555" stroke-width="1.6"/>
<line x1="618.34" y1="734.13" x2="625.34" y2="734.13" stroke="#555" stroke-width="1.6"/>
<line x1="655.21" y1="739" x2="655.21" y2="752.31" stroke="#808080" stroke-width="1.5"/>
<line x1="651.71" y1="752.31" x2="658.71" y2="752.31" stroke="#555" stroke-width="1.6"/>
<line x1="677.46" y1="706.84" x2="677.46" y2="710.09" stroke="#808080" stroke-width="1.5"/>
<line x1="673.96" y1="706.84" x2="680.96" y2="706.84" stroke="#555" stroke-width="1.6"/>
<line x1="673.96" y1="710.09" x2="680.96" y2="710.09" stroke="#555" stroke-width="1.6"/>
<line x1="716.39" y1="752.31" x2="716.39" y2="758.81" stroke="#808080" stroke-width="1.5"/>
<line x1="712.89" y1="752.31" x2="719.89" y2="752.31" stroke="#555" stroke-width="1.6"/>
<line x1="712.89" y1="758.81" x2="719.89" y2="758.81" stroke="#555" stroke-width="1.6"/>
<line x1="766.45" y1="675.66" x2="766.45" y2="708.14" stroke="#808080" stroke-width="1.5"/>
<line x1="762.95" y1="675.66" x2="769.95" y2="675.66" stroke="#555" stroke-width="1.6"/>
<line x1="762.95" y1="708.14" x2="769.95" y2="708.14" stroke="#555" stroke-width="1.6"/>
<line x1="805.39" y1="700.35" x2="805.39" y2="738.02" stroke="#808080" stroke-width="1.5"/>
<line x1="801.89" y1="700.35" x2="808.89" y2="700.35" stroke="#555" stroke-width="1.6"/>
<line x1="801.89" y1="738.02" x2="808.89" y2="738.02" stroke="#555" stroke-width="1.6"/>
<line x1="838.76" y1="626.94" x2="838.76" y2="693.2" stroke="#808080" stroke-width="1.5"/>
<line x1="835.26" y1="626.94" x2="842.26" y2="626.94" stroke="#555" stroke-width="1.6"/>
<line x1="835.26" y1="693.2" x2="842.26" y2="693.2" stroke="#555" stroke-width="1.6"/>
<polyline points="538.41,642.53 577.34,686.38 621.84,728.28 655.21,739 677.46,708.47 716.39,755.56 766.45,691.9 805.39,719.19 838.76,659.75" fill="none" stroke="#f00" stroke-width="1.5" stroke-linejoin="round"/>
<circle cx="538.41" cy="642.53" r="5.7" fill="#f00"/>
<circle cx="577.34" cy="686.38" r="5.7" fill="#f00"/>
<circle cx="621.84" cy="728.28" r="5.7" fill="#f00"/>
<circle cx="655.21" cy="739" r="5.7" fill="#f00"/>
<circle cx="677.46" cy="708.47" r="5.7" fill="#f00"/>
<circle cx="716.39" cy="755.56" r="5.7" fill="#f00"/>
<circle cx="766.45" cy="691.9" r="5.7" fill="#f00"/>
<circle cx="805.39" cy="719.19" r="5.7" fill="#f00"/>
<circle cx="838.76" cy="659.75" r="5.7" fill="#f00"/>
<polyline points="538.41,641.88 577.34,677.94 621.84,722.76 655.21,709.12 677.46,608.75 716.39,596.09 766.45,697.1 805.39,639.93 838.76,604.53" fill="none" stroke="#000" stroke-width="1.6" stroke-linejoin="round"/>
<rect x="534.41" y="637.88" width="8" height="8" fill="#000"/>
<rect x="573.34" y="673.94" width="8" height="8" fill="#000"/>
<rect x="617.84" y="718.76" width="8" height="8" fill="#000"/>
<rect x="651.21" y="705.12" width="8" height="8" fill="#000"/>
<rect x="673.46" y="604.75" width="8" height="8" fill="#000"/>
<rect x="712.39" y="592.09" width="8" height="8" fill="#000"/>
<rect x="762.45" y="693.1" width="8" height="8" fill="#000"/>
<rect x="801.39" y="635.93" width="8" height="8" fill="#000"/>
<rect x="834.76" y="600.53" width="8" height="8" fill="#000"/>
<ellipse cx="662.5" cy="697.4" rx="2.9" ry="3.19" fill="#000" filter="url(#bl)"/>
<ellipse cx="670.8" cy="697.4" rx="2.9" ry="3.19" fill="#000" filter="url(#bl)"/>
<ellipse cx="684.2" cy="598.8" rx="2.9" ry="3.19" fill="#000" filter="url(#bl)"/>
<ellipse cx="693" cy="598.8" rx="2.9" ry="3.19" fill="#000" filter="url(#bl)"/>
<ellipse cx="722.5" cy="586.5" rx="2.9" ry="3.19" fill="#000" filter="url(#bl)"/>
<ellipse cx="731.7" cy="586.5" rx="2.9" ry="3.19" fill="#000" filter="url(#bl)"/>
<ellipse cx="813" cy="628.3" rx="2.9" ry="3.19" fill="#000" filter="url(#bl)"/>
<ellipse cx="822" cy="628.3" rx="2.9" ry="3.19" fill="#000" filter="url(#bl)"/>
<ellipse cx="845.7" cy="595.3" rx="2.9" ry="3.19" fill="#000" filter="url(#bl)"/>
<ellipse cx="853.8" cy="595.3" rx="2.9" ry="3.19" fill="#000" filter="url(#bl)"/>
<rect x="466" y="476" width="13.5" height="13" fill="#000"/>
<text x="487.6" y="492.3" font-size="32.4" text-anchor="start" font-family='"Liberation Serif", serif' fill="#111">Control</text>
<circle cx="644.5" cy="480.3" r="8.5" fill="#f00"/>
<text x="658.2" y="491" font-size="32.7" text-anchor="start" font-family='"Liberation Serif", serif' fill="#111">ZnO NPs variant</text>
<line x1="461.5" y1="771" x2="461.5" y2="852" stroke="#e6e6e6" stroke-width="1.2" stroke-dasharray="1.5,3"/>
</svg>
</body></html>
